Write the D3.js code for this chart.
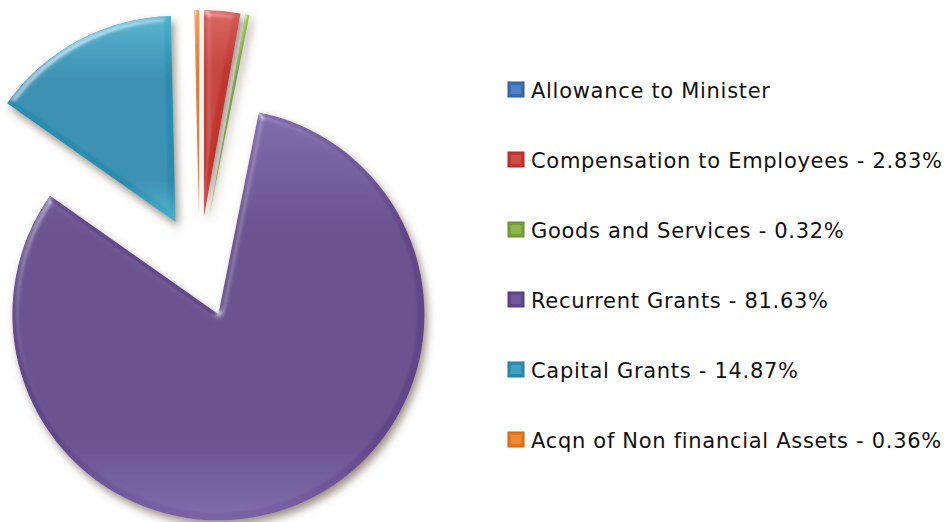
<!DOCTYPE html>
<html>
<head>
<meta charset="utf-8">
<script src="https://cdn.jsdelivr.net/npm/d3@7"></script>
<style>
  html, body { margin: 0; padding: 0; background: #fff; }
  svg { display: block; }
</style>
</head>
<body>
<svg id="chart" width="950" height="522"></svg>
<script>
// Expenditure shares by economic classification (percent of total)
const categories = [
  "Allowance to Minister",
  "Compensation to Employees",
  "Goods and Services",
  "Recurrent Grants",
  "Capital Grants",
  "Acqn of Non financial Assets"
];
const shares = [0, 2.83, 0.32, 81.63, 14.87, 0.36];
const legendLabels = [
  "Allowance to Minister",
  "Compensation to Employees - 2.83%",
  "Goods and Services - 0.32%",
  "Recurrent Grants - 81.63%",
  "Capital Grants - 14.87%",
  "Acqn of Non financial Assets - 0.36%"
];
// light / mid / dark tone for each series
const tones = [
  ["#5f8fcf", "#3a6cb0", "#2d5a98"],
  ["#d65e5a", "#c0352f", "#a82a26"],
  ["#9cc45a", "#76a03a", "#5e8a2a"],
  ["#7b63a8", "#614689", "#553c7c"],
  ["#4eb0cc", "#2a8caf", "#237c9c"],
  ["#f79a4e", "#e5741f", "#c86016"]
];

const svg = d3.select("#chart");
const defs = svg.append("defs");

// bevel + soft drop shadow
const f = defs.append("filter").attr("id", "bevel")
  .attr("x", "-20%").attr("y", "-20%").attr("width", "140%").attr("height", "140%");
f.append("feGaussianBlur").attr("in", "SourceAlpha").attr("stdDeviation", 3).attr("result", "blur");
const spec = f.append("feSpecularLighting").attr("in", "blur")
  .attr("surfaceScale", 4).attr("specularConstant", 0.7).attr("specularExponent", 18)
  .attr("lighting-color", "#ffffff").attr("result", "spec");
spec.append("feDistantLight").attr("azimuth", 235).attr("elevation", 30);
f.append("feComposite").attr("in", "spec").attr("in2", "SourceAlpha").attr("operator", "in").attr("result", "specIn");
f.append("feComposite").attr("in", "SourceGraphic").attr("in2", "specIn")
  .attr("operator", "arithmetic").attr("k1", 0).attr("k2", 1).attr("k3", 0.5).attr("k4", 0).attr("result", "lit");
f.append("feGaussianBlur").attr("in", "SourceAlpha").attr("stdDeviation", 4).attr("result", "sb");
f.append("feOffset").attr("in", "sb").attr("dx", 3).attr("dy", 5).attr("result", "so");
f.append("feFlood").attr("flood-color", "#5b4634").attr("flood-opacity", 0.6).attr("result", "fl");
f.append("feComposite").attr("in", "fl").attr("in2", "so").attr("operator", "in").attr("result", "shadow");
const m = f.append("feMerge");
m.append("feMergeNode").attr("in", "shadow");
m.append("feMergeNode").attr("in", "lit");

// vertical shading per slice
tones.forEach((t, i) => {
  const g = defs.append("linearGradient").attr("id", "grad" + i)
    .attr("x1", 0).attr("y1", 0).attr("x2", 0).attr("y2", 1);
  g.append("stop").attr("offset", "0%").attr("stop-color", t[0]);
  g.append("stop").attr("offset", "30%").attr("stop-color", t[1]);
  g.append("stop").attr("offset", "80%").attr("stop-color", t[1]);
  g.append("stop").attr("offset", "100%").attr("stop-color", t[0]);
});

// pie geometry
const cx = 199.5, cy = 267, radius = 206, explode = 51;
const pie = d3.pie().sort(null).value(d => d).startAngle(0).endAngle(2 * Math.PI);
const arc = d3.arc().innerRadius(0).outerRadius(radius);
const arcs = pie(shares);

const pieG = svg.append("g").attr("transform", `translate(${cx},${cy})`);
pieG.selectAll("path")
  .data(arcs.filter(a => a.endAngle - a.startAngle > 0))
  .join("path")
  .attr("d", arc)
  .attr("fill", d => `url(#grad${d.index})`)
  .attr("filter", "url(#bevel)")
  .attr("transform", d => {
    const mid = (d.startAngle + d.endAngle) / 2;
    return `translate(${explode * Math.sin(mid)},${-explode * Math.cos(mid)})`;
  });

// legend
const yBand = d3.scalePoint().domain(categories).range([90, 440]);
const lg = svg.append("g");
const rows = lg.selectAll("g").data(categories).join("g")
  .attr("transform", d => `translate(508,${yBand(d)})`);
rows.append("rect")
  .attr("x", 0).attr("y", -8).attr("width", 16).attr("height", 15)
  .attr("fill", (d, i) => tones[i][1])
  .attr("stroke", (d, i) => tones[i][2]).attr("stroke-width", 1);
rows.append("rect")
  .attr("x", 3).attr("y", -5).attr("width", 10).attr("height", 9)
  .attr("fill", (d, i) => tones[i][0]).attr("opacity", 0.6);
rows.append("text")
  .attr("x", 23).attr("y", 8)
  .attr("font-family", "DejaVu Sans, Verdana, sans-serif")
  .attr("font-size", 21)
  .attr("letter-spacing", 0.7)
  .attr("fill", "#111")
  .text((d, i) => legendLabels[i]);
</script>
</body>
</html>
